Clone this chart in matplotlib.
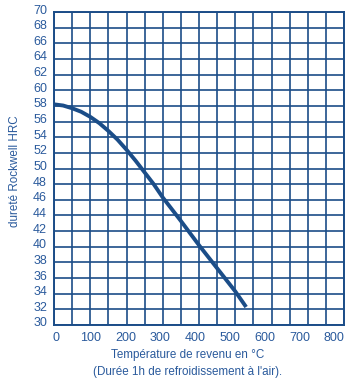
import matplotlib
matplotlib.use('Agg')
import matplotlib.pyplot as plt
import matplotlib.transforms as mtransforms
import numpy as np

# tempering temperature (°C) vs Rockwell hardness HRC
temps = [0, 25, 50, 75, 100, 125, 150, 175, 200, 225, 250, 275, 300, 350, 400, 450, 500, 530]
hrc = [58.2, 58.05, 57.7, 57.25, 56.6, 55.8, 54.8, 53.7, 52.4, 51.0, 49.5, 48.0,
       46.3, 43.3, 40.2, 37.25, 34.3, 32.3]

x_labels = [0, 100, 200, 300, 400, 500, 600, 700, 800]
x_grid = list(range(0, 801, 50))
y_ticks = list(range(30, 71, 2))

LINE = '#1b4d88'
TEXT = '#2a5a9c'
FONT = ['Liberation Sans', 'DejaVu Sans']

plt.rcParams['font.family'] = FONT

fig = plt.figure(figsize=(3.51, 3.83), dpi=100)
ax = fig.add_axes([54 / 351, 1 - 325 / 383, 290 / 351, 313 / 383])

ax.plot(temps, hrc, color=LINE, lw=2.8, solid_capstyle='butt',
        solid_joinstyle='round', zorder=3)

ax.set_xlim(0, 800)
ax.set_ylim(30, 70)
# the printed x labels sit on a slightly tighter scale than the grid
ax.set_xticks([5.5 + v * 0.96 for v in x_labels])
ax.set_xticklabels([str(v) for v in x_labels])
ax.set_xticks(x_grid, minor=True)
ax.set_yticks(y_ticks)
ax.xaxis.grid(False, which='major')
ax.xaxis.grid(True, which='minor', color=LINE, lw=1.2)
ax.yaxis.grid(True, which='major', color=LINE, lw=1.2)
ax.tick_params(which='both', length=0, colors=TEXT, labelsize=9)
ax.tick_params(axis='x', pad=5)
ax.tick_params(axis='y', pad=5)

shift = mtransforms.ScaledTranslation(0, 3 / 100, fig.dpi_scale_trans)
for lab in ax.get_yticklabels():
    lab.set_transform(lab.get_transform() + shift)

for s in ax.spines.values():
    s.set_color(LINE)
    s.set_linewidth(1.4)

ax.set_ylabel('dureté Rockwell HRC', color=TEXT, fontsize=8.4)
ax.yaxis.set_label_coords((21 - 54) / 290, 0.49)
ax.set_xlabel('Température de revenu en °C\n(Durée 1h de refroidissement à l\'air).',
              color=TEXT, fontsize=8.4, linespacing=1.55)
ax.xaxis.set_label_coords(134 / 290, -24 / 313)
ax.xaxis.label.set_va('top')

fig.savefig('out.png', dpi=100)
